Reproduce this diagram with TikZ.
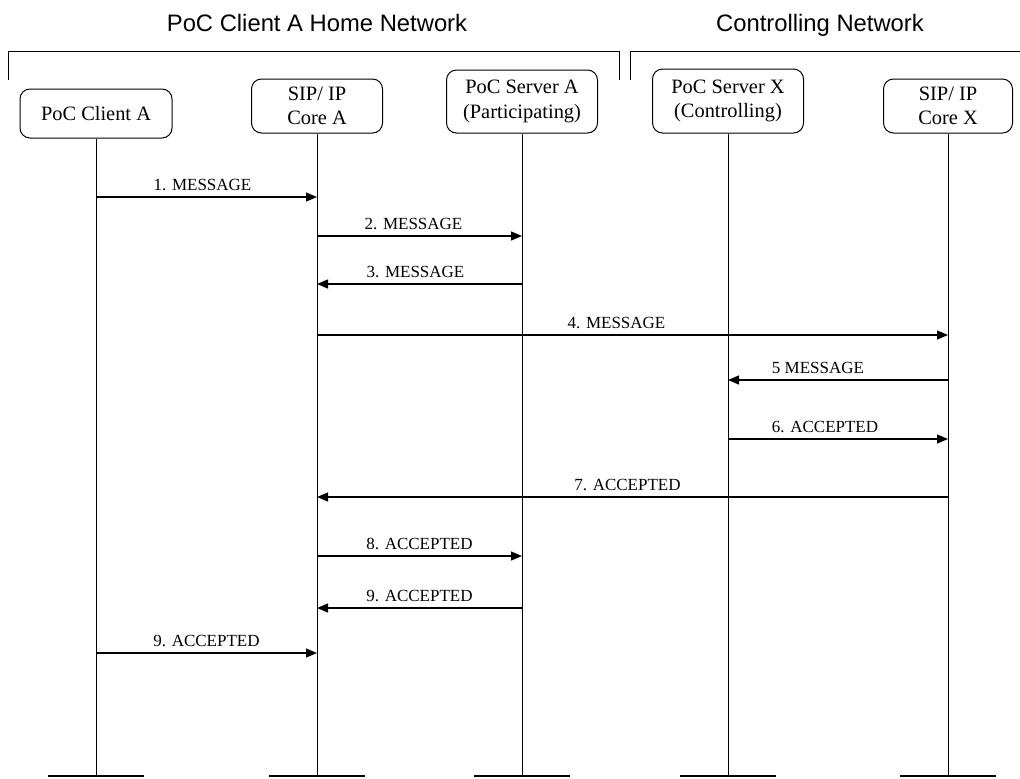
\documentclass[tikz,border=0pt]{standalone}
\usepackage{fontspec}
\setmainfont{Liberation Serif}
\newfontfamily\netfont{Liberation Sans}
\usetikzlibrary{arrows.meta}

\begin{document}
\begin{tikzpicture}[
    x=0.5pt, y=-0.5pt,
    every node/.style={font=\fontsize{10.2}{12.2}\selectfont},
    entity/.style={draw, rounded corners=5pt, align=center, inner sep=0pt, line width=0.5pt},
    netlabel/.style={font=\netfont\fontsize{11.9}{14}\selectfont, anchor=base},
    life/.style={line width=0.5pt},
    endbar/.style={line width=1.3pt},
    msg/.style={line width=0.65pt, -{Triangle[length=5.5pt,width=4.5pt]}},
    msglabel/.style={font=\fontsize{8.5}{10}\selectfont, midway, above, inner sep=3pt}
]

\useasboundingbox (0,0) rectangle (1020,778);

% =========================================================
% Networks
% =========================================================

\node[netlabel] (homenet) at (317,31) {PoC Client A Home Network};
\node[netlabel] (ctrlnet) at (820,31) {Controlling Network};

\draw[line width=0.5pt] (8,80) -- (8,51) -- (619,51) -- (619,80);
\draw[line width=0.5pt] (630,80) -- (630,51) -- (1020,51);


% =========================================================
% Entities
% =========================================================

\node[entity, minimum width=76pt, minimum height=24.5pt] (ca) at (96,113.5) {PoC Client A};
\node[entity, minimum width=65.5pt, minimum height=27pt] (cora) at (317,106) {SIP/ IP\\Core A};
\node[entity, minimum width=75.5pt, minimum height=31.5pt] (sa) at (522,101.5) {PoC Server A\\(Participating)};
\node[entity, minimum width=75.5pt, minimum height=32pt] (sx) at (728,101) {PoC Server X\\(Controlling)};
\node[entity, minimum width=64.5pt, minimum height=27pt] (corx) at (948,106) {SIP/ IP\\Core X};


% =========================================================
% Lifelines
% =========================================================

\coordinate (caend) at (ca |- 0,776);
\coordinate (coraend) at (cora |- 0,776);
\coordinate (saend) at (sa |- 0,776);
\coordinate (sxend) at (sx |- 0,776);
\coordinate (corxend) at (corx |- 0,776);

\draw[life] (ca.south) -- (caend);
\draw[life] (cora.south) -- (coraend);
\draw[life] (sa.south) -- (saend);
\draw[life] (sx.south) -- (sxend);
\draw[life] (corx.south) -- (corxend);

\draw[endbar] ([xshift=-24pt]caend) -- ([xshift=24pt]caend);
\draw[endbar] ([xshift=-24pt]coraend) -- ([xshift=24pt]coraend);
\draw[endbar] ([xshift=-24pt]saend) -- ([xshift=24pt]saend);
\draw[endbar] ([xshift=-24pt]sxend) -- ([xshift=24pt]sxend);
\draw[endbar] ([xshift=-24pt]corxend) -- ([xshift=24pt]corxend);


% =========================================================
% Messages
% =========================================================

\draw[msg] (ca |- 0,197) -- (cora |- 0,197) node[msglabel, xshift=-2pt] {1. MESSAGE};
\draw[msg] (cora |- 0,236) -- (sa |- 0,236) node[msglabel, xshift=-3pt] {2. MESSAGE};
\draw[msg] (sa |- 0,284) -- (cora |- 0,284) node[msglabel, xshift=-2pt] {3. MESSAGE};
\draw[msg] (cora |- 0,335) -- (corx |- 0,335) node[msglabel, xshift=-8pt] {4. MESSAGE};
\draw[msg] (corx |- 0,380) -- (sx |- 0,380) node[msglabel, xshift=-10pt] {5 MESSAGE};
\draw[msg] (sx |- 0,439) -- (corx |- 0,439) node[msglabel, xshift=-6.5pt] {6. ACCEPTED};
\draw[msg] (corx |- 0,497) -- (cora |- 0,497) node[msglabel, xshift=-2.5pt] {7. ACCEPTED};
\draw[msg] (cora |- 0,556) -- (sa |- 0,556) node[msglabel] {8. ACCEPTED};
\draw[msg] (sa |- 0,608) -- (cora |- 0,608) node[msglabel] {9. ACCEPTED};
\draw[msg] (ca |- 0,653) -- (cora |- 0,653) node[msglabel] {9. ACCEPTED};

\end{tikzpicture}
\end{document}
